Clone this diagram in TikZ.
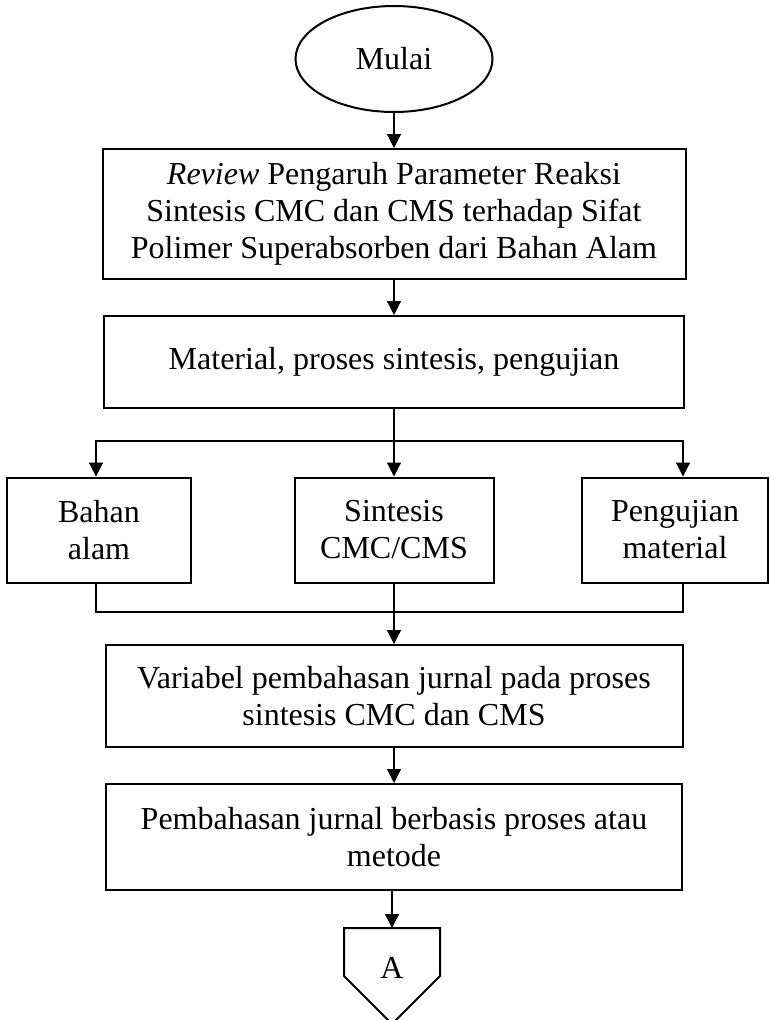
\documentclass[tikz,border=0pt]{standalone}
\usepackage{fontspec}
\setmainfont{Liberation Serif}
\usetikzlibrary{arrows.meta,shapes.geometric}
\begin{document}
\begin{tikzpicture}[x=1pt,y=-1pt,
  box/.style={draw,line width=2pt,inner sep=0pt,align=center,font=\fontsize{32}{37}\selectfont},
  conn/.style={line width=1.2pt},
  arr/.style={conn,-{Triangle[width=14pt,length=14pt]}}]
\useasboundingbox (0,0) rectangle (769,1020);
\node[box,ellipse,minimum width=197pt,minimum height=106pt] (mulai) at (394,59) {Mulai};
\node[box,minimum width=583pt,minimum height=130pt] (b1) at (394,214) {\textit{Review} Pengaruh Parameter Reaksi\\Sintesis CMC dan CMS terhadap Sifat\\Polimer Superabsorben dari Bahan Alam};
\node[box,minimum width=580pt,minimum height=92pt] (b2) at (394,362) {Material, proses sintesis, pengujian};
\node[box,minimum width=184pt,minimum height=105pt] (lb) at (99,530) {Bahan\\alam};
\node[box,minimum width=199pt,minimum height=105pt] (mb) at (394,530) {Sintesis\\CMC/CMS};
\node[box,minimum width=186pt,minimum height=105pt] (rb) at (675,530) {Pengujian\\material};
\node[box,minimum width=577pt,minimum height=102pt] (b3) at (394,696) {Variabel pembahasan jurnal pada proses\\sintesis CMC dan CMS};
\node[box,minimum width=576pt,minimum height=106pt] (b4) at (394,837) {Pembahasan jurnal berbasis proses atau\\metode};
\coordinate (j1) at (394,441);
\coordinate (j2) at (394,612);
\coordinate (atop) at (392,928);
\draw[line width=2pt,line join=miter] (344,928) -- (440,928) -- (440,976) -- (392,1024) -- (344,976) -- cycle;
\node[font=\fontsize{32}{37}\selectfont,inner sep=0pt] (A) at (392,968) {A};
\draw[arr] (mulai) -- (b1);
\draw[arr] (b1) -- (b2);
\draw[conn] (b2) -- (j1);
\draw[arr] (j1) -- (mb);
\draw[arr] (j1) -| ([xshift=-3pt]lb.north);
\draw[arr] (j1) -| ([xshift=8pt]rb.north);
\draw[conn] ([xshift=-3pt]lb.south) |- (j2) -| ([xshift=8pt]rb.south);
\draw[arr] (mb) -- (b3);
\draw[arr] (b3) -- (b4);
\draw[arr] (b4.south -| atop) -- (atop);
\end{tikzpicture}
\end{document}
